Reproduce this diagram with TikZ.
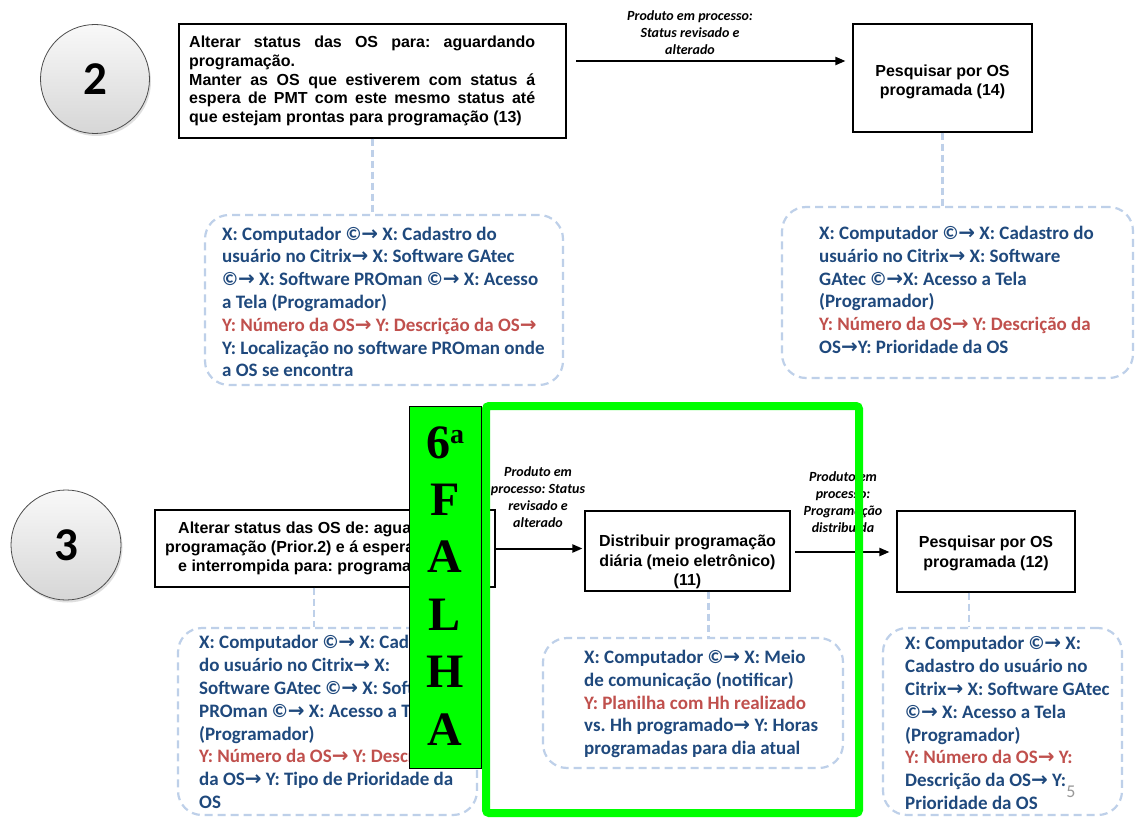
\documentclass[tikz,border=0pt]{standalone}
\usepackage{fontspec}
\setmainfont{Liberation Sans}
\newfontfamily\calib{Carlito}
\newfontfamily\symb{DejaVu Sans}
\newfontfamily\tms{Liberation Serif}
\usetikzlibrary{arrows.meta,shadows}
\frenchspacing

\definecolor{navy}{RGB}{31,73,125}
\definecolor{brick}{RGB}{192,80,77}
\definecolor{paleblue}{RGB}{190,208,233}
\definecolor{neon}{RGB}{0,255,0}

% bold arrow used inside the X/Y chains
\newcommand{\tto}{{\symb\bfseries\fontsize{20}{20}\selectfont →}}

\tikzset{
  procbox/.style={draw=black, line width=1.1pt, fill=white, inner sep=0pt},
  proctext/.style={font=\bfseries\fontsize{16}{18.75}\selectfont, align=center, inner sep=0pt},
  flowarrow/.style={line width=2pt, -{Triangle[length=10pt,width=8pt]}},
  flowlabel/.style={font=\calib\bfseries\itshape\fontsize{14}{17}\selectfont, align=center, inner sep=0pt},
  infobox/.style={draw=paleblue, line width=2.2pt, dash pattern=on 8pt off 5pt, rounded corners=24pt, inner sep=0pt},
  infotext/.style={font=\calib\bfseries\fontsize{19}{22.8}\selectfont, align=left, inner sep=0pt, text=navy, anchor=west},
  tie/.style={draw=paleblue, line width=2.2pt, dash pattern=on 7pt off 4pt},
  stepcircle/.style={circle, draw=gray!60!black, line width=0.8pt, top color=gray!5, bottom color=gray!32,
    font=\calib\bfseries\fontsize{47}{47}\selectfont, inner sep=0pt,
    drop shadow={opacity=0.25, shadow xshift=1.5pt, shadow yshift=-2.5pt}},
  failletter/.style={font=\tms\bfseries\fontsize{48}{48}\selectfont, inner sep=0pt, anchor=base},
}

\begin{document}
\begin{tikzpicture}[x=1pt,y=-1pt]
\useasboundingbox (0,0) rectangle (1137,818);
\fill[white] (0,0) rectangle (1137,818);

% ---------- step 2 ----------
\node[stepcircle, minimum size=109pt] (c2) at (95,79) {2};

\node[procbox, minimum width=387pt, minimum height=114pt] (b1) at (372.5,81) {};
\node[font=\bfseries\fontsize{16}{18.75}\selectfont, align=left, inner sep=0pt, anchor=west] (b1t) at (189,81) {%
  \makebox[346pt][s]{Alterar status das OS para: aguardando}\\
  programação.\\
  \makebox[346pt][s]{Manter as OS que estiverem com status á}\\
  \makebox[346pt][s]{espera de PMT com este mesmo status até}\\
  que estejam prontas para programação (13)};

\node[procbox, minimum width=179pt, minimum height=108pt] (b2) at (942.5,78) {};
\node[proctext] (b2t) at (942.5,82) {Pesquisar por OS\\programada (14)};

\coordinate (a1s) at (576,61);
\draw[flowarrow, shorten >=7pt] (a1s) -- (a1s -| b2.west);
\node[flowlabel] (l1) at (690,33) {Produto em processo:\\Status revisado e\\alterado};

\node[infobox, minimum width=358pt, minimum height=170pt] (d1) at (384,300) {};
\node[infotext] (d1t) at (222,302) {%
  X: Computador ©\tto{} X: Cadastro do\\
  usuário no Citrix\tto{} X: Software GAtec\\
  ©\tto{} X: Software PROman ©\tto{} X: Acesso\\
  a Tela (Programador)\\
  \color{brick}Y: Número da OS\tto{} Y: Descrição da OS\tto\\
  Y: Localização no software PROman onde\\
  a OS se encontra};

\node[infobox, minimum width=351pt, minimum height=171pt] (d2) at (957.5,292.5) {};
\node[infotext] (d2t) at (819,290) {%
  X: Computador ©\tto{} X: Cadastro do\\
  usuário no Citrix\tto{} X: Software\\
  GAtec ©\tto X: Acesso a Tela\\
  (Programador)\\
  \color{brick}Y: Número da OS\tto{} Y: Descrição da\\
  OS\tto Y: Prioridade da OS};

\draw[tie] (b1.south) -- (b1.south |- d1.north);
\draw[tie] (b2.south) -- (b2.south |- d2.north);

% ---------- step 3 ----------
\node[stepcircle, minimum size=110pt] (c3) at (66,545) {3};

\node[procbox, minimum width=340pt, minimum height=77pt] (b3) at (325,548.5) {};
\node[font=\bfseries\fontsize{16}{19}\selectfont, align=left, inner sep=0pt, anchor=west] (b3t) at (165,548) {%
  \hspace*{13pt}Alterar status das OS de: aguardando\\
  programação (Prior.2) e á espera\\
  \hspace*{13pt}e interrompida para: programada};

\node[procbox, minimum width=205pt, minimum height=80pt] (b4) at (687.5,551) {};
\node[proctext, font=\bfseries\fontsize{16}{19.5}\selectfont] (b4t) at (687.5,562) {Distribuir programação\\diária (meio eletrônico)\\(11)};

\node[procbox, minimum width=178pt, minimum height=81pt] (b5) at (986,551.5) {};
\node[proctext, font=\bfseries\fontsize{16}{20}\selectfont] (b5t) at (986,553) {Pesquisar por OS\\programada (12)};

\draw[flowarrow, shorten >=2pt] (b3.east) -- (b4.west |- b3.east);
\node[flowlabel] (l2) at (538,497) {Produto em\\processo: Status\\revisado e\\alterado};

\coordinate (a3s) at (795,552);
\draw[flowarrow, shorten >=7pt] (a3s) -- (a3s -| b5.west);
\node[flowlabel] (l3) at (843,502) {Produto em\\processo:\\Programação\\distribuída};

\node[infobox, minimum width=299pt, minimum height=187pt] (d3) at (327.5,721.5) {};
\node[infotext] (d3t) at (199,722) {%
  X: Computador ©\tto{} X: Cadastro\\
  do usuário no Citrix\tto{} X:\\
  Software GAtec ©\tto{} X: Software\\
  PROman ©\tto{} X: Acesso a Tela\\
  (Programador)\\
  \color{brick}Y: Número da OS\tto{} Y: Descrição\\
  da OS\tto{} Y: Tipo de Prioridade da\\
  OS};

\node[infobox, minimum width=300pt, minimum height=130pt] (d4) at (693,703) {};
\node[infotext] (d4t) at (584,704) {%
  X: Computador ©\tto{} X: Meio\\
  de comunicação (notificar)\\
  \color{brick}Y: Planilha com Hh realizado\\
  vs. Hh programado\tto{} Y: Horas\\
  programadas para dia atual};

\node[infobox, minimum width=239pt, minimum height=187pt] (d5) at (1002.5,721.5) {};
\node[infotext] (d5t) at (905,723) {%
  X: Computador ©\tto{} X:\\
  Cadastro do usuário no\\
  Citrix\tto{} X: Software GAtec\\
  ©\tto{} X: Acesso a Tela\\
  (Programador)\\
  \color{brick}Y: Número da OS\tto{} Y:\\
  Descrição da OS\tto{} Y:\\
  Prioridade da OS};

\draw[tie] ([xshift=-11pt]b3.south) -- ([xshift=-11pt]b3.south |- d3.north);
\draw[tie] ([xshift=21pt]b4.south) -- ([xshift=21pt]b4.south |- d4.north);
\draw[tie] ([xshift=-17pt]b5.south) -- ([xshift=-17pt]b5.south |- d5.north);

% ---------- highlighted failure zone ----------
\node[draw=neon, line width=8pt, rounded corners=3pt, minimum width=373pt, minimum height=407pt, inner sep=0pt] (frame) at (672.5,609.5) {};

\node[draw=black, fill=neon, line width=1pt, minimum width=72pt, minimum height=362pt, inner sep=0pt] (falha) at (445,587) {};
\node[failletter] (f0) at (445,458) {6\raisebox{15pt}{\fontsize{28}{28}\selectfont a}};
\node[failletter] (f1) at (445,515) {F};
\node[failletter] (f2) at (445,572.5) {A};
\node[failletter] (f3) at (445,630) {L};
\node[failletter] (f4) at (445,687.5) {H};
\node[failletter] (f5) at (445,745) {A};

% page number
\node[font=\calib\fontsize{18}{18}\selectfont, text=gray!80, inner sep=0pt] (pg) at (1071,792) {5};
\end{tikzpicture}
\end{document}
